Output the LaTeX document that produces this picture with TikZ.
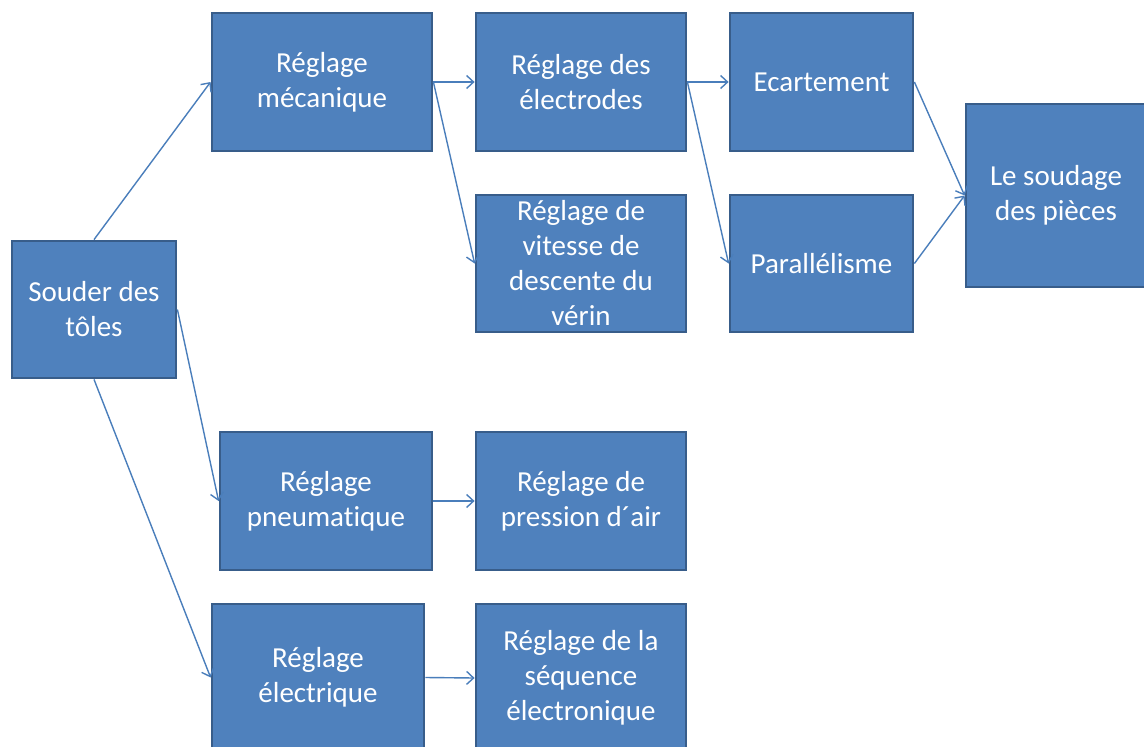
\documentclass[tikz,border=0pt]{standalone}
\usepackage{fontspec}
\setmainfont[Ligatures={NoCommon}]{Carlito}
\usetikzlibrary{arrows.meta}
\definecolor{boxfill}{HTML}{4F81BD}
\definecolor{boxline}{HTML}{385D8A}
\definecolor{arrowcol}{HTML}{4A7EBB}
\tikzset{
  box/.style={rectangle, draw=boxline, line width=2.8pt, fill=boxfill,
    text=white, align=center, inner sep=2pt,
    font=\fontsize{29}{35}\selectfont},
  conn/.style={draw=arrowcol, line width=1.4pt,
    -{Straight Barb[length=7pt,width=13pt,line width=1.4pt]}}
}
\begin{document}
\begin{tikzpicture}[x=1pt,y=-1pt]
\clip (0,0) rectangle (1144,747);
\useasboundingbox (0,0) rectangle (1144,747);
\fill[white] (0,0) rectangle (1144,747);

\node[box, minimum width=164pt, minimum height=137pt] (souder) at (94,309.5) {Souder des\\tôles};
\node[box, minimum width=220pt, minimum height=138pt] (meca) at (322,82) {Réglage\\mécanique};
\node[box, minimum width=210pt, minimum height=138pt] (electrodes) at (581,82) {Réglage des\\électrodes};
\node[box, minimum width=210pt, minimum height=137pt] (vitesse) at (581,263.5) {Réglage de\\vitesse de\\descente du\\vérin};
\node[box, minimum width=183pt, minimum height=138pt] (ecart) at (821.5,82) {Ecartement};
\node[box, minimum width=183pt, minimum height=137pt] (para) at (821.5,263.5) {Parallélisme};
\node[box, minimum width=180pt, minimum height=183pt] (soud) at (1056,195.5) {Le soudage\\des pièces};
\node[box, minimum width=212pt, minimum height=138pt] (pneu) at (326,501) {Réglage\\pneumatique};
\node[box, minimum width=210pt, minimum height=138pt] (pression) at (581,501) {Réglage de\\pression d´air};
\node[box, minimum width=212pt, minimum height=147pt] (electrique) at (318,677.5) {Réglage\\électrique};
\node[box, minimum width=210pt, minimum height=148pt] (sequence) at (581,678) {Réglage de la\\séquence\\électronique};

\draw[conn] (souder.north) -- (meca.west);
\draw[conn] (souder.east) -- (pneu.west);
\draw[conn] (souder.south) -- (electrique.west);
\draw[conn] (meca.east) -- (electrodes.west);
\draw[conn] (meca.east) -- (vitesse.west);
\draw[conn] (electrodes.east) -- (ecart.west);
\draw[conn] (electrodes.east) -- (para.west);
\draw[conn] (ecart.east) -- (soud.west);
\draw[conn] (para.east) -- (soud.west);
\draw[conn] (pneu.east) -- (pression.west);
\draw[conn] (electrique.east) -- (sequence.west);
\end{tikzpicture}
\end{document}
